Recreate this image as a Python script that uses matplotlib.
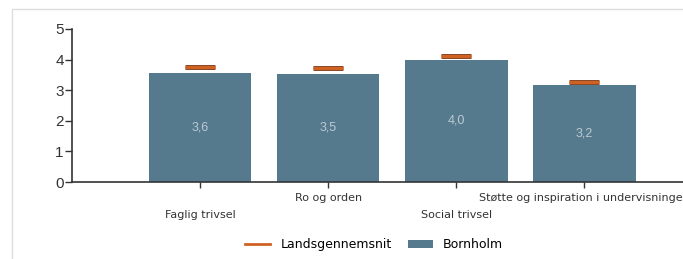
import numpy as np
import matplotlib
matplotlib.use("Agg")
import matplotlib.pyplot as plt
from matplotlib.lines import Line2D
from matplotlib.patches import Patch, Rectangle

categories = ["Faglig trivsel", "Ro og orden", "Social trivsel",
              "Støtte og inspiration i undervisningen"]
bornholm = [3.56, 3.53, 3.99, 3.17]
bornholm_labels = ["3,6", "3,5", "4,0", "3,2"]
landsgennemsnit = [3.76, 3.73, 4.12, 3.28]

bar_color = "#557A8D"
avg_color = "#CF6223"

plt.rcParams["font.family"] = ["DejaVu Sans"]

fig = plt.figure(figsize=(6.83, 2.59), dpi=100)
ax = fig.add_axes([72 / 683, 77 / 259, 1 - 72 / 683, 153 / 259])

# light frame around the chart area
fig.patches.append(Rectangle((12 / 683, -0.2), 1.2, 1.2 - 9 / 259,
                             transform=fig.transFigure, fill=False,
                             edgecolor="#DDDDDD", lw=1))

x = np.arange(len(categories))
bars = ax.bar(x, bornholm, width=0.8, color=bar_color, zorder=2)
for b, lab in zip(bars, bornholm_labels):
    ax.text(b.get_x() + b.get_width() / 2, b.get_height() / 2, lab,
            ha="center", va="center", color="#BCCAD2", fontsize=9,
            family="Liberation Sans")

ax.plot(x, landsgennemsnit, linestyle="none", marker="_", markersize=22,
        markeredgewidth=3.6, color="#8A4A2A", zorder=3)
ax.plot(x, landsgennemsnit, linestyle="none", marker="_", markersize=21,
        markeredgewidth=2.2, color=avg_color, zorder=4)

ax.set_xlim(-1.0, 3.77)
ax.set_ylim(0, 5)
ax.set_yticks([0, 1, 2, 3, 4, 5])
ax.set_yticklabels([str(v) for v in range(6)], family="Liberation Sans")
ax.tick_params(axis="y", labelsize=11, length=5, width=1, pad=1, colors="#333333")
ax.set_xticks(x)
ax.set_xticklabels([])
ax.tick_params(axis="x", length=4, width=1, colors="#333333")

# staggered category labels, the last one runs off the right edge as in the original
for i, name in enumerate(categories):
    off = -23.5 if i % 2 == 0 else -11.5
    ax.annotate(name, (x[i], 0), xytext=(0, off), textcoords="offset points",
                ha="center", va="center", fontsize=8, color="#333333",
                annotation_clip=False)

for s in ["top", "right"]:
    ax.spines[s].set_visible(False)
ax.spines["left"].set_color("#333333")
ax.spines["bottom"].set_color("#333333")
ax.spines["left"].set_linewidth(1.2)
ax.spines["bottom"].set_linewidth(1.2)

handles = [Line2D([0], [0], color=avg_color, lw=2),
           Patch(facecolor=bar_color)]
fig.legend(handles, ["Landsgennemsnit", "Bornholm"], loc="center",
           bbox_to_anchor=(0.548, 0.055), ncol=2, frameon=False, fontsize=9,
           handlelength=2.0, columnspacing=1.3)

fig.savefig("out.png", dpi=100)
